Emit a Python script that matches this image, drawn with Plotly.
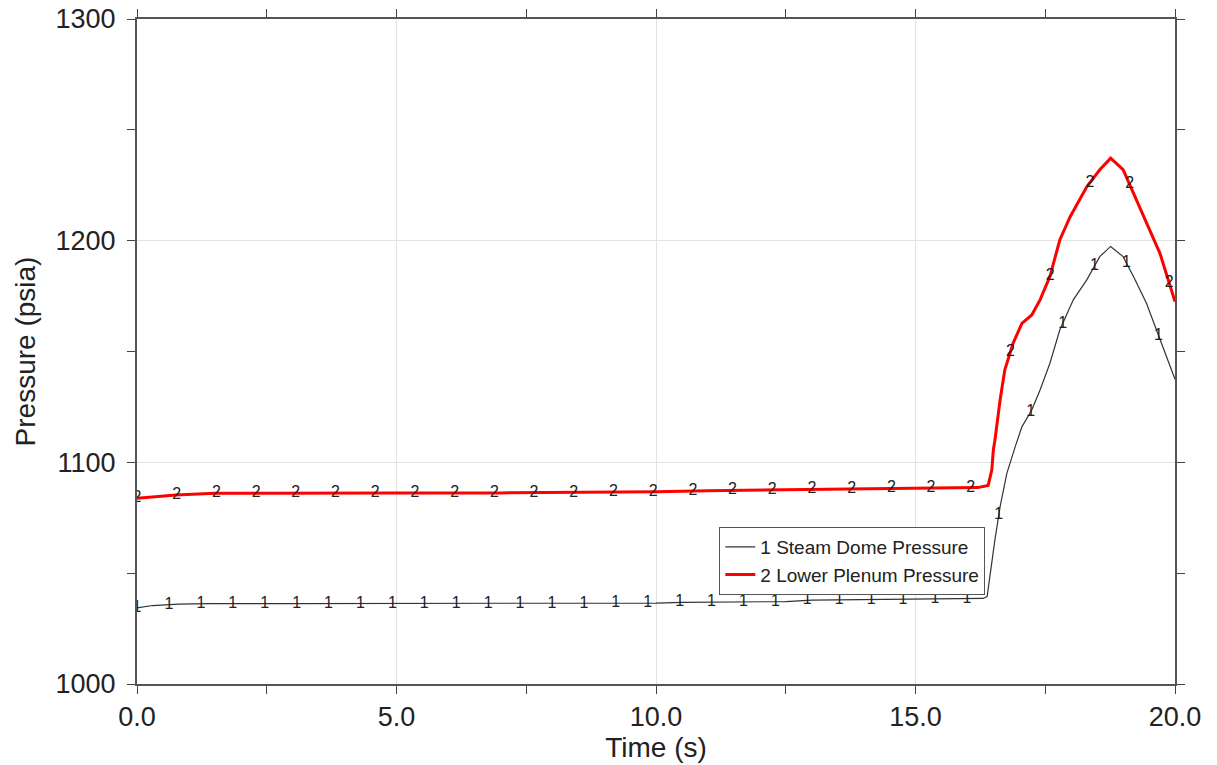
import numpy as np
import plotly.graph_objects as go

# Steam Dome Pressure (series 1)
t1 = [0.0, 0.3, 0.8, 1.4, 3.0, 6.0, 9.0, 10.0, 10.5, 12.5, 13.0, 15.0, 16.3, 16.38,
      16.44, 16.53, 16.63, 16.76, 16.92, 17.05, 17.24, 17.40, 17.59, 17.78, 18.04,
      18.30, 18.55, 18.76, 19.00, 19.20, 19.45, 19.71, 20.0]
p1 = [1034.3, 1035.4, 1036.0, 1036.3, 1036.3, 1036.3, 1036.3, 1036.5, 1036.8, 1037.2,
      1037.8, 1038.1, 1038.6, 1039.4, 1049.9, 1065.0, 1080.0, 1095.0, 1107.0, 1116.0,
      1123.6, 1132.6, 1144.7, 1159.7, 1173.3, 1182.3, 1192.8, 1197.4, 1192.8, 1183.8,
      1171.8, 1155.2, 1137.5]

# Lower Plenum Pressure (series 2)
t2 = [0.0, 0.75, 1.5, 3.0, 5.0, 7.0, 8.5, 10.0, 11.0, 12.5, 14.0, 15.5, 16.2, 16.40,
      16.47, 16.50, 16.53, 16.63, 16.72, 16.88, 17.05, 17.24, 17.40, 17.59, 17.78,
      17.98, 18.30, 18.55, 18.76, 19.00, 19.20, 19.45, 19.71, 20.0]
p2 = [1083.8, 1085.3, 1086.0, 1086.2, 1086.2, 1086.2, 1086.3, 1086.7, 1087.2, 1087.7,
      1088.1, 1088.4, 1088.6, 1089.6, 1096.5, 1105.6, 1110.0, 1128.1, 1141.6, 1153.7,
      1162.7, 1166.5, 1173.3, 1183.8, 1200.3, 1210.8, 1224.3, 1232.0, 1237.2, 1232.0,
      1221.4, 1207.9, 1194.3, 1172.5]

names = ["1 Steam Dome Pressure", "2 Lower Plenum Pressure"]
marker_labels = ["1", "2"]
marker_step = [0.615, 0.765]

x_ticks = [0, 5, 10, 15, 20]
y_ticks = [1000, 1100, 1200, 1300]

FONT = "Liberation Sans, Arial, sans-serif"
fig = go.Figure()

series = [(t1, p1, "#333333", 1.2), (t2, p2, "#ff0000", 3)]
for i, (t, p, col, w) in enumerate(series):
    fig.add_trace(go.Scatter(x=t, y=p, mode="lines", name=names[i],
                             line=dict(color=col, width=w)))

for i, (t, p, col, w) in enumerate(series):
    tm = np.arange(0, 20.0001, marker_step[i])
    pm = np.interp(tm, t, p)
    fig.add_trace(go.Scatter(x=tm, y=pm, mode="text", text=[marker_labels[i]] * len(tm),
                             textposition="middle center",
                             textfont=dict(family=FONT, size=16, color="#222222"),
                             showlegend=False, hoverinfo="skip"))

axis_common = dict(showline=True, linecolor="#555555", linewidth=2, mirror="allticks",
                   ticks="outside", ticklen=8, tickcolor="#444444", automargin=False,
                   ticklabeloverflow="allow",
                   showgrid=True, gridcolor="#e3e3e3", gridwidth=1, zeroline=False,
                   tickfont=dict(family=FONT, size=27, color="#222222"),
                   title_font=dict(family=FONT, size=28, color="#222222"))

fig.update_xaxes(range=[0, 20], tickvals=x_ticks, tickformat=".1f",
                 minor=dict(dtick=2.5, ticks="outside", ticklen=8, tickcolor="#444444",
                            showgrid=False),
                 title_text="Time (s)", title_standoff=5, **axis_common)
fig.update_yaxes(range=[1000, 1300], tickvals=y_ticks, ticklabelstandoff=6,
                 minor=dict(dtick=50, ticks="outside", ticklen=8, tickcolor="#444444",
                            showgrid=False),
                 title_text="Pressure (psia)", title_standoff=12, **axis_common)

fig.update_layout(
    width=1217, height=765,
    margin=dict(l=137, r=42, t=19, b=81),
    plot_bgcolor="white", paper_bgcolor="white",
    showlegend=True,
    legend=dict(x=0.561, y=0.236, xanchor="left", yanchor="top",
                bgcolor="white", bordercolor="#555555", borderwidth=1,
                font=dict(family=FONT, size=19, color="#222222"),
                tracegroupgap=0),
)

fig.write_html("out.html", config={"displayModeBar": False},
               post_script="document.body.style.margin='0';document.body.style.overflow='hidden';")
